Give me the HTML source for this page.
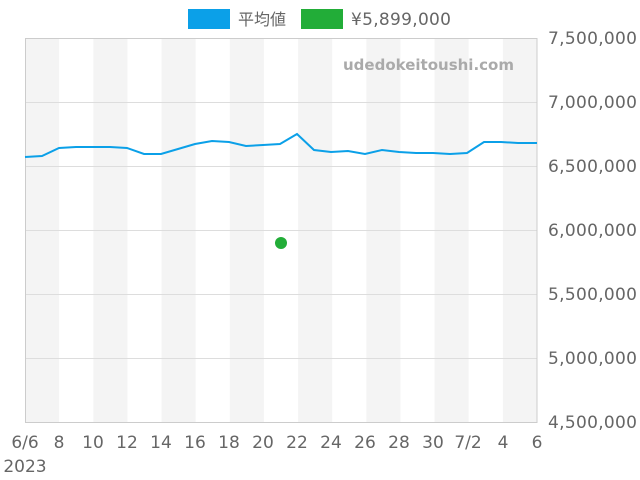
<!DOCTYPE html>
<html><head><meta charset="utf-8"><style>
body{margin:0;background:#fff}
svg{display:block;font-family:"DejaVu Sans","Noto Sans CJK JP",sans-serif}
</style></head><body>
<svg width="640" height="480" xmlns="http://www.w3.org/2000/svg">
<rect width="640" height="480" fill="#fff"/>
<g fill="#f4f4f4">
<rect x="25" y="38" width="34.1" height="384"/>
<rect x="93.3" y="38" width="34.1" height="384"/>
<rect x="161.5" y="38" width="34.1" height="384"/>
<rect x="229.8" y="38" width="34.1" height="384"/>
<rect x="298.1" y="38" width="34.1" height="384"/>
<rect x="366.3" y="38" width="34.1" height="384"/>
<rect x="434.6" y="38" width="34.1" height="384"/>
<rect x="502.9" y="38" width="34.1" height="384"/>
</g>
<g stroke="#dddddd" stroke-width="1">
<line x1="25" x2="537" y1="102.5" y2="102.5"/>
<line x1="25" x2="537" y1="166.5" y2="166.5"/>
<line x1="25" x2="537" y1="230.5" y2="230.5"/>
<line x1="25" x2="537" y1="294.5" y2="294.5"/>
<line x1="25" x2="537" y1="358.5" y2="358.5"/>
</g>
<rect x="25.5" y="38.5" width="511.5" height="384" fill="none" stroke="#cccccc"/>
<text x="343" y="70" textLength="171" font-size="15" font-weight="bold" fill="#aaaaaa">udedokeitoushi.com</text>
<polyline fill="none" stroke="#0ba0e8" stroke-width="2" points="25,157 42,156 59,148 76,147 93,147 110,147 127,148 144,154 161,154 178,149 195,144 212,141 229,142 246,146 263,145 280,144 297,134 314,150 331,152 348,151 365,154 382,150 399,152 416,153 433,153 450,154 467,153 484,142 501,142 518,143 537,143"/>
<circle cx="281" cy="243" r="6" fill="#22ad38"/>
<rect x="188" y="9" width="42" height="20" fill="#0ba0e8"/>
<text x="238" y="25" font-size="16" fill="#666">平均値</text>
<rect x="301" y="9" width="42" height="20" fill="#22ad38"/>
<text x="351" y="25" font-size="17" fill="#666" textLength="100">¥5,899,000</text>
<g font-size="17" fill="#666">
<text x="548" y="44" textLength="89">7,500,000</text>
<text x="548" y="108" textLength="89">7,000,000</text>
<text x="548" y="172" textLength="89">6,500,000</text>
<text x="548" y="236" textLength="89">6,000,000</text>
<text x="548" y="300" textLength="89">5,500,000</text>
<text x="548" y="364" textLength="89">5,000,000</text>
<text x="548" y="428" textLength="89">4,500,000</text>
</g>
<g font-size="17" fill="#666" text-anchor="middle">
<text x="25" y="448">6/6</text>
<text x="59" y="448">8</text>
<text x="93" y="448">10</text>
<text x="127" y="448">12</text>
<text x="161" y="448">14</text>
<text x="195" y="448">16</text>
<text x="229" y="448">18</text>
<text x="263" y="448">20</text>
<text x="297" y="448">22</text>
<text x="331" y="448">24</text>
<text x="365" y="448">26</text>
<text x="399" y="448">28</text>
<text x="433" y="448">30</text>
<text x="468" y="448">7/2</text>
<text x="503" y="448">4</text>
<text x="537" y="448">6</text>
<text x="25" y="472">2023</text>
</g>
</svg>
</body></html>
